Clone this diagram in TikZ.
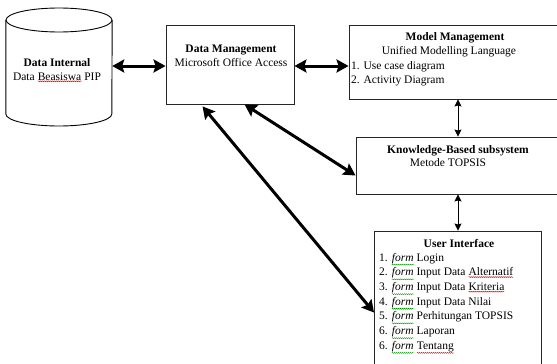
\documentclass[tikz,border=0pt]{standalone}
\usepackage{fontspec}
\setmainfont{Liberation Serif}
\usetikzlibrary{arrows.meta,calc,decorations.pathmorphing}
\newcommand\squig[2]{\tikz[baseline=(w.base)]{\node[inner sep=0pt, outer sep=0pt] (w) {#2};
  \draw[#1, line width=0.4pt, decorate, decoration={snake, amplitude=0.5pt, segment length=2pt}] ([yshift=-1.2pt]w.south west) -- ([yshift=-1.2pt]w.south east);}}
\newcommand\fm{\squig{green!60!black}{\textit{form}}}
\newcommand\rw[1]{\squig{red!85!black}{#1}}
\begin{document}
\begin{tikzpicture}[x=1pt,y=-1pt,
  box/.style={draw=black!85, line width=0.9pt, fill=white, inner sep=0pt},
  txt/.style={font=\fontsize{11.5}{13}\selectfont, inner sep=0pt, anchor=base},
  ltxt/.style={font=\fontsize{11.5}{13}\selectfont, inner sep=0pt, anchor=base west},
  bigarrow/.style={line width=3pt, {Stealth[length=12pt,width=13pt,inset=2pt]}-{Stealth[length=12pt,width=13pt,inset=2pt]}},
  smallarrow/.style={line width=0.9pt, {Stealth[length=7pt,width=7pt,inset=1pt]}-{Stealth[length=7pt,width=7pt,inset=1pt]}}
]
\useasboundingbox (0,0) rectangle (557,364);
% cylinder
\node[minimum width=106pt, minimum height=118pt, inner sep=0pt] (di) at (59,66) {};
\draw[line width=0.9pt, fill=white] (di.north west |- 0,20) -- (di.south west |- 0,114)
  arc[start angle=180, end angle=360, x radius=53pt, y radius=12pt] -- (di.north east |- 0,20);
\draw[line width=0.9pt] (59,20) ellipse [x radius=53pt, y radius=12pt];
\node[txt] (dit1) at (57,66) {\textbf{Data Internal}};
\node[txt] (dit2) at (57,80) {Data \rw{Beasiswa} PIP};
% boxes
\node[box, minimum width=128pt, minimum height=79pt] (dm) at (230,64.5) {};
\node[box, minimum width=212pt, minimum height=74pt] (mm) at (455,62) {};
\node[box, minimum width=204pt, minimum height=57pt] (kb) at (458,165.5) {};
\node[box, minimum width=167pt, minimum height=150pt] (ui) at (458,306) {};
% texts
\node[txt] (dmt1) at (231,52.7) {\textbf{Data Management}};
\node[txt] (dmt2) at (231,66.7) {Microsoft Office Access};
\node[txt] (mmt1) at (455,40.7) {\textbf{Model Management}};
\node[txt] (mmt2) at (449,54.3) {Unified Modelling Language};
\node[ltxt] (mmt3) at (351,69) {1. Use case diagram};
\node[ltxt] (mmt4) at (351,83) {2. Activity Diagram};
\node[txt] (kbt1) at (458,153) {\textbf{Knowledge-Based subsystem}};
\node[txt] (kbt2) at (448,166) {Metode TOPSIS};
\node[txt] (uit0) at (459,247) {\textbf{User Interface}};
\node[ltxt] (uit1) at (379,261) {1. \fm{} Login};
\node[ltxt] (uit2) at (379,275.7) {2. \fm{} Input Data \rw{Alternatif}};
\node[ltxt] (uit3) at (379,290.4) {3. \fm{} Input Data \rw{Kriteria}};
\node[ltxt] (uit4) at (379,305.1) {4. \fm{} Input Data Nilai};
\node[ltxt] (uit5) at (379,319.8) {5. \fm{} Perhitungan TOPSIS};
\node[ltxt] (uit6) at (379,334.5) {6. \fm{} Laporan};
\node[ltxt] (uit7) at (379,349.2) {6. \fm{} \rw{Tentang}};
% connectors
\draw[bigarrow] (di.east) -- (dm.west |- di.east);
\draw[bigarrow] (dm.east |- di.east) -- (mm.west |- di.east);
\draw[smallarrow] (kb.north |- mm.south) -- (kb.north);
\draw[smallarrow] (kb.south) -- (ui.north);
\draw[bigarrow] ($(dm.south west)+(79,0)$) -- ($(kb.west)+(0,10)$);
\draw[bigarrow] ($(dm.south west)+(37,2)$) -- ($(ui.north west)+(0,82)$);
\end{tikzpicture}
\end{document}
